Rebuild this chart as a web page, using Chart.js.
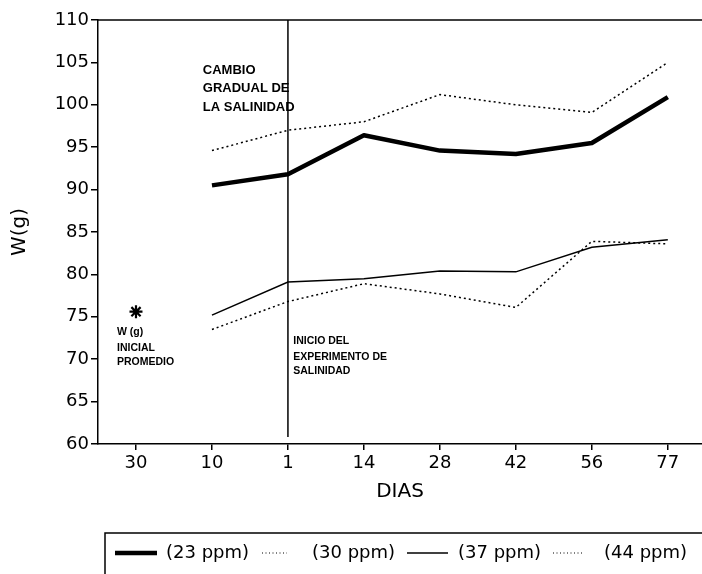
<!DOCTYPE html>
<html>
<head>
<meta charset="utf-8">
<script src="https://cdn.jsdelivr.net/npm/chart.js@4/dist/chart.umd.min.js"></script>
<style>
  html, body { margin: 0; padding: 0; background: #fff; }
  #wrap { width: 702px; height: 574px; }
</style>
</head>
<body>
<div id="wrap"><canvas id="chart"></canvas></div>
<script>
// days on the x axis (first one is the initial weight point)
const days = ['30', '10', '1', '14', '28', '42', '56', '77'];
const yTicks = [60, 65, 70, 75, 80, 85, 90, 95, 100, 105, 110];

// W (g) per salinity
const ppm23 = [null, 90.5, 91.8, 96.4, 94.6, 94.2, 95.5, 100.9];
const ppm30 = [null, 94.6, 97.0, 98.0, 101.2, 100.0, 99.1, 105.0];
const ppm37 = [null, 75.2, 79.1, 79.5, 80.4, 80.3, 83.2, 84.1];
const ppm44 = [null, 73.5, 76.8, 78.9, 77.7, 76.1, 83.9, 83.6];
const initialW = [75.6, null, null, null, null, null, null, null];

const seriesNames = ['(23 ppm)', '(30 ppm)', '(37 ppm)', '(44 ppm)'];

const toPoints = arr => arr.map((v, i) => ({ x: i, y: v }));
const FONT = '"DejaVu Sans", sans-serif';
const BOLD = '"Liberation Sans", Arial, sans-serif';

// text notes, anchored in data units (x = day index, y = W)
const notes = [
  { x: 0.88, lines: ['CAMBIO', 'GRADUAL DE', 'LA SALINIDAD'], ys: [104.0, 101.9, 99.7], size: 13 },
  { x: 2.07, lines: ['INICIO DEL', 'EXPERIMENTO DE', 'SALINIDAD'], ys: [72.1, 70.3, 68.6], size: 10.5 },
  { x: -0.25, lines: ['W (g)', 'INICIAL', 'PROMEDIO'], ys: [73.2, 71.3, 69.6], size: 10.5 }
];

const decorations = {
  id: 'decorations',
  afterDatasetsDraw(chart) {
    const { ctx, chartArea, scales: { x, y } } = chart;
    ctx.save();
    ctx.strokeStyle = '#000';
    // top border
    ctx.lineWidth = 1.5;
    ctx.beginPath();
    ctx.moveTo(chartArea.left, chartArea.top);
    ctx.lineTo(chart.width, chartArea.top);
    ctx.stroke();
    // start of experiment (day 1)
    const xs = x.getPixelForValue(2);
    ctx.beginPath();
    ctx.moveTo(xs, chartArea.top);
    ctx.lineTo(xs, chartArea.bottom - 7);
    ctx.stroke();
    // notes
    ctx.fillStyle = '#000';
    ctx.textBaseline = 'middle';
    ctx.textAlign = 'left';
    notes.forEach(n => {
      ctx.font = 'bold ' + n.size + 'px ' + BOLD;
      n.lines.forEach((t, i) => ctx.fillText(t, x.getPixelForValue(n.x), y.getPixelForValue(n.ys[i])));
    });
    ctx.restore();
  },
  afterDraw(chart) {
    // framed legend at the bottom
    const { ctx } = chart;
    ctx.save();
    ctx.strokeStyle = '#000';
    ctx.lineWidth = 1.5;
    ctx.beginPath();
    ctx.moveTo(105, chart.height);
    ctx.lineTo(105, 533);
    ctx.lineTo(chart.width, 533);
    ctx.stroke();
    const sx = [115, 262, 407, 553];
    const sw = [42, 25, 41, 30];
    const tx = [166, 312, 458, 604];
    const ly = 553;
    ctx.font = '18px ' + FONT;
    ctx.fillStyle = '#000';
    ctx.textBaseline = 'middle';
    chart.data.datasets.slice(0, 4).forEach((ds, i) => {
      ctx.lineWidth = ds.borderDash ? 1 : ds.borderWidth;
      ctx.setLineDash(ds.borderDash ? [1, 2.5] : []);
      ctx.beginPath();
      ctx.moveTo(sx[i], ly);
      ctx.lineTo(sx[i] + sw[i], ly);
      ctx.stroke();
      ctx.setLineDash([]);
      ctx.fillText(ds.label, tx[i], ly);
    });
    ctx.restore();
  }
};

const dotted = [2, 3];

new Chart(document.getElementById('chart'), {
  type: 'line',
  data: {
    datasets: [
      { label: seriesNames[0], data: toPoints(ppm23), borderColor: '#000', borderWidth: 4.5, pointRadius: 0, borderJoinStyle: 'round' },
      { label: seriesNames[1], data: toPoints(ppm30), borderColor: '#000', borderWidth: 1.5, borderDash: dotted, pointRadius: 0 },
      { label: seriesNames[2], data: toPoints(ppm37), borderColor: '#000', borderWidth: 1.5, pointRadius: 0 },
      { label: seriesNames[3], data: toPoints(ppm44), borderColor: '#000', borderWidth: 1.5, borderDash: dotted, pointRadius: 0 },
      { label: 'inicial', data: toPoints(initialW), showLine: false, pointStyle: 'star', pointRadius: 6.5, borderColor: '#000', borderWidth: 2.2 }
    ]
  },
  options: {
    responsive: true,
    maintainAspectRatio: false,
    animation: false,
    events: [],
    layout: { autoPadding: false, padding: { top: 20, right: 0, bottom: 64, left: 0 } },
    plugins: { legend: { display: false }, tooltip: { enabled: false } },
    scales: {
      x: {
        type: 'linear',
        min: -0.5,
        max: 7.45,
        afterFit: s => { s.height = 66; },
        afterBuildTicks: s => { s.ticks = days.map((d, i) => ({ value: i })); },
        ticks: {
          callback: v => days[v],
          color: '#000',
          font: { family: FONT, size: 18 },
          padding: 3,
          maxRotation: 0
        },
        grid: { drawOnChartArea: false, tickLength: 6, color: '#000', lineWidth: 1.5 },
        border: { color: '#000', width: 1.5 },
        title: { display: true, text: 'DIAS', color: '#000', font: { family: FONT, size: 20 }, padding: { top: 0, bottom: 6 } }
      },
      y: {
        min: 60,
        max: 110,
        afterFit: s => { s.width = 98; },
        afterBuildTicks: s => { s.ticks = yTicks.map(v => ({ value: v })); },
        ticks: { color: '#000', font: { family: FONT, size: 18 }, padding: 2 },
        grid: { drawOnChartArea: false, tickLength: 7, color: '#000', lineWidth: 1.5 },
        border: { color: '#000', width: 1.5 },
        title: { display: true, text: 'W(g)', color: '#000', font: { family: FONT, size: 20 }, padding: { top: 8, bottom: 0 } }
      }
    }
  },
  plugins: [decorations]
});
</script>
</body>
</html>
